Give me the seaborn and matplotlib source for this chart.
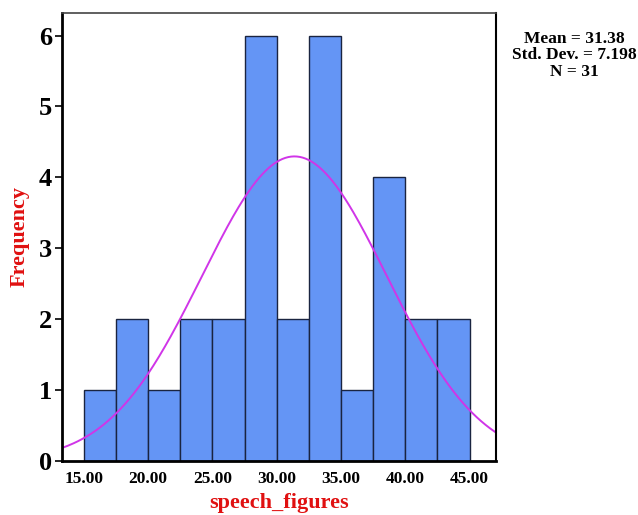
import numpy as np
import pandas as pd
import matplotlib
matplotlib.use('Agg')
import matplotlib.pyplot as plt
import seaborn as sns

# 分箱数据 (bin width 2.5)
bin_edges = [15.0, 17.5, 20.0, 22.5, 25.0, 27.5, 30.0, 32.5, 35.0, 37.5, 40.0, 42.5, 45.0]
bin_counts = [1, 2, 1, 2, 2, 6, 2, 6, 1, 4, 2, 2]
x_ticks = [15, 20, 25, 30, 35, 40, 45]
x_tick_labels = ['15.00', '20.00', '25.00', '30.00', '35.00', '40.00', '45.00']
y_ticks = [0, 1, 2, 3, 4, 5, 6]

mean_val = 31.38
std_val = 7.198
n_val = 31

sns.set_style('white')
plt.rcParams['font.family'] = ['Liberation Serif', 'DejaVu Serif']
plt.rcParams['text.color'] = 'black'
plt.rcParams['xtick.color'] = 'black'
plt.rcParams['ytick.color'] = 'black'

centers = [(a + b) / 2 for a, b in zip(bin_edges[:-1], bin_edges[1:])]
df = pd.DataFrame({'value': centers, 'count': bin_counts})

fig = plt.figure(figsize=(6.38, 5.15), dpi=100)
ax = fig.add_axes([0.097, 0.105, 0.68, 0.87])

sns.histplot(data=df, x='value', weights='count', bins=bin_edges, ax=ax,
             color='#6495F5', alpha=1, edgecolor='#1a2440', linewidth=1.0)

# 正态曲线
xlo, xhi = 13.29, 47.04
xs = np.linspace(xlo, xhi, 300)
bw = bin_edges[1] - bin_edges[0]
ys = n_val * bw * np.exp(-0.5 * ((xs - mean_val) / std_val) ** 2) / (std_val * np.sqrt(2 * np.pi))
sns.lineplot(x=xs, y=ys, ax=ax, color='#D035E8', linewidth=1.4)

ax.set_xlim(xlo, xhi)
ax.set_ylim(0, 6.32)
ax.set_xticks(x_ticks)
ax.set_xticklabels(x_tick_labels, fontsize=12.5, fontweight='bold')
ax.set_yticks(y_ticks)
ax.set_yticklabels([str(v) for v in y_ticks], fontsize=19, fontweight='bold')
ax.tick_params(axis='y', which='both', left=True, length=5, width=1.2, pad=2)
ax.tick_params(axis='x', which='both', bottom=False, pad=4)

ax.set_xlabel('speech_figures', fontsize=16, fontweight='bold', color='#E01010', labelpad=4)
ax.set_ylabel('Frequency', fontsize=16, fontweight='bold', color='#E01010', labelpad=7)

for side in ['left', 'bottom']:
    ax.spines[side].set_linewidth(2.0)
    ax.spines[side].set_color('black')
ax.spines['right'].set_linewidth(1.5)
ax.spines['right'].set_color('black')
ax.spines['top'].set_linewidth(1.2)
ax.spines['top'].set_color('#444444')

fig.text(0.9, 0.893, f'Mean = {mean_val:.2f}\nStd. Dev. = {std_val:.3f}\nN = {n_val}',
         ha='center', va='center', fontsize=12.5, fontweight='bold', linespacing=1.05)

fig.savefig('out.png', dpi=100)
